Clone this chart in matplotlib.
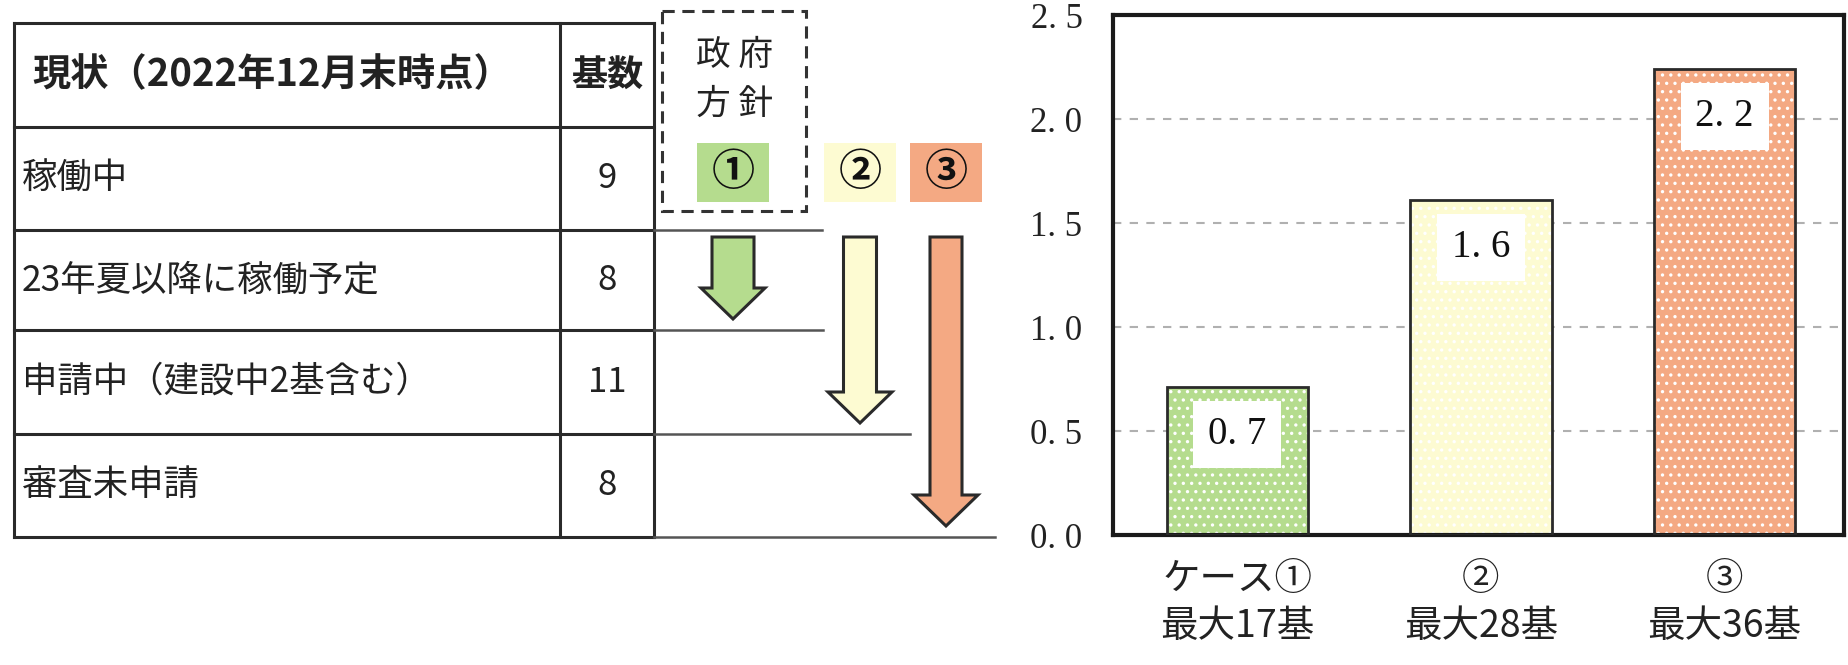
import matplotlib
matplotlib.use('Agg')
import matplotlib.pyplot as plt
from matplotlib.patches import Rectangle, FancyArrow

plt.rcParams['font.family'] = ['Noto Sans CJK JP', 'DejaVu Sans']

# データ
header_labels = ['現状（2022年12月末時点）', '基数']
row_labels = ['稼働中', '23年夏以降に稼働予定', '申請中（建設中2基含む）', '審査未申請']
row_counts = [9, 8, 11, 8]
case_marks = ['①', '②', '③']
case_reach = [1, 2, 3]          # 各ケースの矢印がどの行まで届くか
case_names = ['ケース①\n最大17基', '②\n最大28基', '③\n最大36基']
case_values = [0.71, 1.61, 2.24]
yticks = [0.0, 0.5, 1.0, 1.5, 2.0, 2.5]

colors = ['#b5dc8e', '#fdfbd2', '#f4a983']
line_c = '#2a2a2a'

fig = plt.figure(figsize=(18.48, 6.65), dpi=100)

# 左側: 表と矢印 (ピクセル座標)
ax0 = fig.add_axes([0, 0, 1, 1])
ax0.set_xlim(0, 1848)
ax0.set_ylim(665, 0)
ax0.axis('off')

x_l, x_div, x_r = 14, 560, 654
y_top, y_head = 23, 127
row_bottom = [230, 330, 434, 537]
line_end = [822, 823, 910, 995]

# 枠線
ax0.plot([x_l, x_r], [y_top, y_top], color=line_c, lw=2.2)
ax0.plot([x_l, x_r], [y_head, y_head], color=line_c, lw=2.2)
ax0.plot([x_l, x_l], [y_top, row_bottom[-1]], color=line_c, lw=2.2)
ax0.plot([x_div, x_div], [y_top, row_bottom[-1]], color=line_c, lw=2.2)
ax0.plot([x_r, x_r], [y_top, row_bottom[-1]], color=line_c, lw=2.2)
for yb, xe in zip(row_bottom, line_end):
    ax0.plot([x_l, x_r], [yb, yb], color=line_c, lw=2.2)
    ax0.plot([x_r, xe], [yb, yb], color='#555555', lw=1.8)

ax0.text(272, (y_top + y_head) / 2, header_labels[0], fontsize=27.5, fontweight='bold',
         ha='center', va='center', color='#222222')
ax0.text((x_div + x_r) / 2, (y_top + y_head) / 2, header_labels[1], fontsize=26,
         fontweight='bold', ha='center', va='center', color='#222222')

tops = [y_head] + row_bottom[:-1]
for lab, cnt, yt, yb in zip(row_labels, row_counts, tops, row_bottom):
    ym = (yt + yb) / 2
    ax0.text(x_l + 8, ym, lab, fontsize=25.5, ha='left', va='center', color='#222222')
    ax0.text((x_div + x_r) / 2, ym, str(cnt), fontsize=25, ha='center', va='center',
             color='#222222')

# 政府方針の点線枠
ax0.add_patch(Rectangle((662, 11), 144, 200, fill=False, ls=(0, (4, 2.5)),
                        lw=2.2, edgecolor='#333333'))
ax0.text(735, 55, '政 府', fontsize=25, ha='center', va='center', color='#222222')
ax0.text(735, 104, '方 針', fontsize=25, ha='center', va='center', color='#222222')

# ケース凡例と矢印
centers = [733, 860, 946]
shaft_w = [42, 33, 32]
for i, (mark, reach) in enumerate(zip(case_marks, case_reach)):
    cx = centers[i]
    ax0.add_patch(Rectangle((cx - 36, 143), 72, 59, facecolor=colors[i],
                            edgecolor='none'))
    ax0.text(cx, 172, mark, fontsize=31, fontweight='bold', ha='center', va='center',
             color='#111111')
    tip = row_bottom[reach] - 11
    ax0.add_patch(FancyArrow(cx, 237, 0, tip - 237, width=shaft_w[i], head_width=64,
                             head_length=31, length_includes_head=True,
                             facecolor=colors[i], edgecolor=line_c, lw=2.2))

# 右側: 棒グラフ
ax1 = fig.add_axes([1113 / 1848, 1 - 535 / 665, (1844 - 1113) / 1848, (535 - 15) / 665])
xs = list(range(len(case_values)))
plt.rcParams['hatch.linewidth'] = 1.2
ax1.bar(xs, case_values, width=0.58, color=colors, edgecolor='white', lw=0,
        hatch='..', zorder=2)
ax1.bar(xs, case_values, width=0.58, facecolor='none', edgecolor=line_c, lw=2,
        zorder=3)

for x, v in zip(xs, case_values):
    ax1.annotate(f'{v:.1f}'.replace('.', '. '), xy=(x, v), xytext=(0, -34),
                 textcoords='offset points', ha='center', va='center', fontsize=28,
                 family=['Liberation Serif'], color='#111111', zorder=4,
                 bbox=dict(boxstyle='square,pad=0.38', facecolor='white',
                           edgecolor='none'))

ax1.set_xlim(-0.51, 2.49)
ax1.set_ylim(0, 2.5)
ax1.set_yticks(yticks)
ax1.set_yticklabels([f'{t:.1f}'.replace('.', '. ') for t in yticks],
                    family=['Liberation Serif'], fontsize=25, color='#222222')
ax1.set_xticks(xs)
ax1.set_xticklabels(case_names, fontsize=27, linespacing=1.25, color='#222222')
ax1.tick_params(axis='y', length=0, pad=22)
ax1.tick_params(axis='x', length=0, pad=18)
ax1.yaxis.grid(True, ls=(0, (4, 4)), color='#b0b0b0', lw=1.5)
ax1.set_axisbelow(True)
for sp in ax1.spines.values():
    sp.set_linewidth(3)
    sp.set_color('#1a1a1a')

fig.savefig('out.png', dpi=100)
